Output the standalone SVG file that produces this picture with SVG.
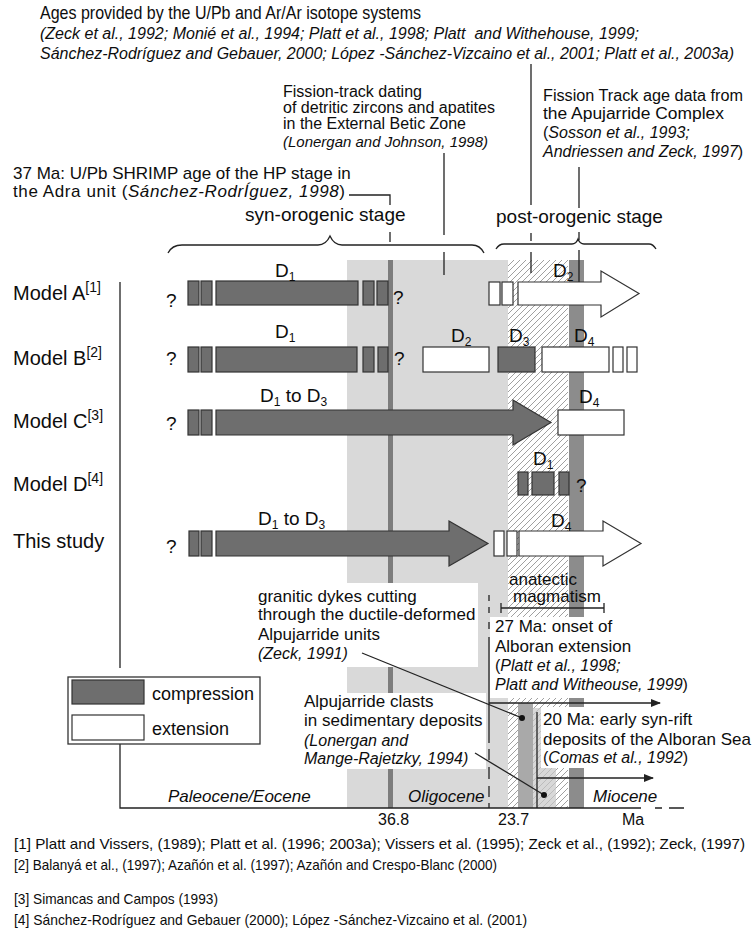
<svg xmlns="http://www.w3.org/2000/svg" width="752" height="940" viewBox="0 0 752 940">
<defs>
<style>
text{font-family:"Liberation Sans",Arial,sans-serif;fill:#0d0d0d}
.i{font-style:italic}
.comp{fill:#6e6e6e;stroke:#333;stroke-width:1.2}
.ext{fill:#fff;stroke:#333;stroke-width:1.2}
.ln{stroke:#222;stroke-width:1.3;fill:none}
.br{stroke:#222;stroke-width:1.3;fill:none}
.wb{fill:#fff}
.d{font-size:19px}
.q{font-size:19px}
.ml{font-size:20px}
</style>
<pattern id="hatch" patternUnits="userSpaceOnUse" width="6" height="6">
<rect width="6" height="6" fill="#fff"/>
<path d="M0,6 L6,0 M-1,1 L1,-1 M5,7 L7,5" stroke="#a0a0a0" stroke-width="1"/>
</pattern>
<marker id="ah" markerUnits="userSpaceOnUse" markerWidth="10" markerHeight="8" refX="9" refY="4" orient="auto">
<path d="M0,0 L10,4 L0,8 z" fill="#222"/>
</marker>
</defs>
<rect width="752" height="940" fill="#fff"/>

<g id="background">
<rect x="347" y="260" width="161" height="548" fill="#d9d9d9"/>
<rect x="508" y="260" width="60" height="548" fill="url(#hatch)"/>
<rect x="518" y="703" width="15" height="105" fill="#a9a9a9"/>
<rect x="533" y="708" width="23" height="100" fill="#c8c8c8" fill-opacity="0.7"/>
<rect x="569" y="260" width="15" height="548" fill="#8c8c8c"/>
<rect x="388" y="260" width="5" height="548" fill="#7d7d7d"/>
<rect class="wb" x="253" y="583" width="225" height="84"/>
<rect class="wb" x="300" y="693" width="186" height="76"/>
<rect class="wb" x="490" y="617" width="262" height="81"/>
<rect class="wb" x="541" y="707" width="211" height="61"/>
</g>

<g id="connectors">
<path class="ln" d="M531,64 V205 M531,233 V241 M531,252 V273"/>
<path class="ln" d="M444,153 V235 M444,252 V275"/>
<path class="ln" d="M579,167 V208 M579,232 V240 M579,250 V282"/>
<path class="ln" d="M349,195 H390 V205 M390,232 V242"/>
<path class="br" d="M168,253 Q172,245 182,245 L318,245 Q326,245 330,236 Q334,245 342,245 L472,245 Q480,245 484,253"/>
<path class="br" d="M496,249 Q499,244 504,244 L572,244 Q576,244 578,239 Q580,244 584,244 L649,244 Q653,244 656,249"/>
<path class="ln" d="M501,608 H604 M501,603 V613 M604,603 V613"/>
<path class="ln" d="M489,595 V601 M489,607 V613 M489,622 V629 M489,637 V743 M489,749 V760 M489,767 V779 M489,786 V797 M489,803 V808"/>
<path class="ln" d="M489,703 H660" marker-end="url(#ah)"/>
<path class="ln" d="M537,712 V808"/>
<path class="ln" d="M537,778 H653" marker-end="url(#ah)"/>
<path class="ln" stroke-width="1" d="M362,653 L522,718"/>
<circle cx="522" cy="718" r="3" fill="#111"/>
<path class="ln" stroke-width="1" d="M475,753 L544,795"/>
<circle cx="544" cy="795" r="3" fill="#111"/>
<path class="ln" d="M120,282 V668 M120,744 V808 H641 M655,808 H662 M669,808 H684"/>
</g>

<g id="header">
<text x="40" y="19" font-size="19" textLength="381" lengthAdjust="spacingAndGlyphs">Ages provided by the U/Pb and Ar/Ar isotope systems</text>
<text x="40" y="39" font-size="16" class="i" textLength="599" lengthAdjust="spacingAndGlyphs" xml:space="preserve">(Zeck et al., 1992; Monié et al., 1994; Platt et al., 1998; Platt  and Withehouse, 1999;</text>
<text x="40" y="59" font-size="16" class="i" textLength="694" lengthAdjust="spacingAndGlyphs">Sánchez-Rodríguez and Gebauer, 2000; López -Sánchez-Vizcaino et al., 2001; Platt et al., 2003a)</text>
</g>

<g id="fission-detritic">
<text x="283" y="97" font-size="16" textLength="139" lengthAdjust="spacingAndGlyphs">Fission-track dating</text>
<text x="283" y="113" font-size="16" textLength="212" lengthAdjust="spacingAndGlyphs">of detritic zircons and apatites</text>
<text x="283" y="129" font-size="16" textLength="183" lengthAdjust="spacingAndGlyphs">in the External Betic Zone</text>
<text x="283" y="147" font-size="15" class="i" textLength="205" lengthAdjust="spacingAndGlyphs">(Lonergan and Johnson, 1998)</text>
</g>

<g id="fission-apujarride">
<text x="543" y="101" font-size="16" textLength="200" lengthAdjust="spacingAndGlyphs">Fission Track age data from</text>
<text x="543" y="119" font-size="16" textLength="181" lengthAdjust="spacingAndGlyphs">the Apujarride Complex</text>
<text x="543" y="138" font-size="16">(<tspan class="i">Sosson et al., 1993;</tspan></text>
<text x="543" y="157" font-size="16"><tspan class="i">Andriessen and Zeck, 1997</tspan>)</text>
</g>

<g id="shrimp">
<text x="13" y="179" font-size="17">37 Ma: U/Pb SHRIMP age of the HP stage in</text>
<text x="13" y="197" font-size="17" textLength="332" lengthAdjust="spacing">the Adra unit (<tspan class="i">Sánchez-RodrÍguez, 1998</tspan>)</text>
</g>

<g id="stages">
<text x="245" y="221" font-size="19">syn-orogenic stage</text>
<text x="496" y="223" font-size="19">post-orogenic stage</text>
</g>

<g id="model-a">
<text x="13" y="300" class="ml">Model A<tspan font-size="14" dy="-8">[1]</tspan></text>
<text x="166" y="307" class="q">?</text>
<rect class="comp" x="188" y="281" width="11" height="24"/>
<rect class="comp" x="201" y="281" width="11" height="24"/>
<rect class="comp" x="216" y="281" width="142" height="24"/>
<rect class="comp" x="363" y="281" width="11" height="24"/>
<rect class="comp" x="377" y="281" width="11" height="24"/>
<text x="393" y="304" class="q">?</text>
<rect class="ext" x="489" y="282" width="11" height="23"/>
<rect class="ext" x="502" y="282" width="11" height="23"/>
<path class="ext" d="M518,282 H601 V271 L639,293.5 L601,317 V305 H518 Z"/>
<text x="275" y="277" class="d">D<tspan font-size="12" dy="4">1</tspan></text>
<text x="553" y="277" class="d">D<tspan font-size="12" dy="4">2</tspan></text>
</g>

<g id="model-b">
<text x="13" y="365" class="ml">Model B<tspan font-size="14" dy="-8">[2]</tspan></text>
<text x="166" y="365" class="q">?</text>
<rect class="comp" x="188" y="347" width="11" height="25"/>
<rect class="comp" x="201" y="347" width="11" height="25"/>
<rect class="comp" x="216" y="347" width="141" height="25"/>
<rect class="comp" x="363" y="347" width="11" height="25"/>
<rect class="comp" x="378" y="347" width="10" height="25"/>
<text x="394" y="365" class="q">?</text>
<rect class="ext" x="423" y="347" width="66" height="25"/>
<rect class="comp" x="498" y="347" width="37" height="25"/>
<rect class="ext" x="542" y="347" width="67" height="25"/>
<rect class="ext" x="613" y="347" width="10" height="25"/>
<rect class="ext" x="627" y="347" width="10" height="25"/>
<text x="275" y="338" class="d">D<tspan font-size="12" dy="4">1</tspan></text>
<text x="451" y="342" class="d">D<tspan font-size="12" dy="4">2</tspan></text>
<text x="509" y="342" class="d">D<tspan font-size="12" dy="4">3</tspan></text>
<text x="574" y="342" class="d">D<tspan font-size="12" dy="4">4</tspan></text>
</g>

<g id="model-c">
<text x="13" y="428" class="ml">Model C<tspan font-size="14" dy="-8">[3]</tspan></text>
<text x="166" y="430" class="q">?</text>
<rect class="comp" x="188" y="410" width="11" height="25"/>
<rect class="comp" x="201" y="410" width="11" height="25"/>
<path class="comp" d="M216,410 H513 V400 L551,422.5 L513,445 V435 H216 Z"/>
<rect class="ext" x="558" y="410" width="66" height="25"/>
<text x="260" y="402" class="d">D<tspan font-size="12" dy="4">1</tspan><tspan dy="-4"> to D</tspan><tspan font-size="12" dy="4">3</tspan></text>
<text x="579" y="403" class="d">D<tspan font-size="12" dy="4">4</tspan></text>
</g>

<g id="model-d">
<text x="13" y="491" class="ml">Model D<tspan font-size="14" dy="-8">[4]</tspan></text>
<rect class="comp" x="518" y="472" width="10" height="23"/>
<rect class="comp" x="532" y="472" width="22" height="23"/>
<rect class="comp" x="559" y="472" width="10" height="23"/>
<text x="576" y="492" class="q">?</text>
<text x="533" y="465" class="d">D<tspan font-size="12" dy="4">1</tspan></text>
</g>

<g id="this-study">
<text x="13" y="548" class="ml">This study</text>
<text x="166" y="553" class="q">?</text>
<rect class="comp" x="189" y="531" width="10" height="25"/>
<rect class="comp" x="201" y="531" width="11" height="25"/>
<path class="comp" d="M216,531 H449 V521 L488,543.5 L449,566 V556 H216 Z"/>
<rect class="ext" x="494" y="531" width="10" height="25"/>
<rect class="ext" x="507" y="531" width="10" height="25"/>
<path class="ext" d="M519,531 H603 V521 L641,543.5 L603,566 V556 H519 Z"/>
<text x="258" y="525" class="d">D<tspan font-size="12" dy="4">1</tspan><tspan dy="-4"> to D</tspan><tspan font-size="12" dy="4">3</tspan></text>
<text x="551" y="527" class="d">D<tspan font-size="12" dy="4">4</tspan></text>
</g>

<g id="granitic-dykes">
<text x="258" y="602" font-size="17">granitic dykes cutting</text>
<text x="258" y="620" font-size="17">through the ductile-deformed</text>
<text x="258" y="640" font-size="17">Alpujarride units</text>
<text x="258" y="659" font-size="16" class="i">(Zeck, 1991)</text>
</g>

<g id="anatectic">
<text x="509" y="585" font-size="17">anatectic</text>
<text x="513" y="602" font-size="17">magmatism</text>
</g>

<g id="alboran-extension">
<text x="495" y="632" font-size="17">27 Ma: onset of</text>
<text x="495" y="652" font-size="17">Alboran extension</text>
<text x="495" y="671" font-size="16">(<tspan class="i">Platt et al., 1998;</tspan></text>
<text x="495" y="690" font-size="16"><tspan class="i">Platt and Witheouse, 1999</tspan>)</text>
</g>

<g id="clasts">
<text x="304" y="707" font-size="17">Alpujarride clasts</text>
<text x="304" y="726" font-size="17">in sedimentary deposits</text>
<text x="304" y="746" font-size="16" class="i">(Lonergan and</text>
<text x="304" y="764" font-size="16" class="i">Mange-Rajetzky, 1994)</text>
</g>

<g id="synrift">
<text x="543" y="725" font-size="17">20 Ma: early syn-rift</text>
<text x="543" y="745" font-size="17">deposits of the Alboran Sea</text>
<text x="543" y="763" font-size="16">(<tspan class="i">Comas et al., 1992</tspan>)</text>
</g>

<g id="legend">
<rect x="68" y="677" width="192" height="67" fill="#fff" stroke="#333" stroke-width="1.3"/>
<rect class="comp" x="72" y="680" width="72" height="24"/>
<rect class="ext" x="72" y="715" width="72" height="25"/>
<text x="152" y="700" font-size="18">compression</text>
<text x="152" y="735" font-size="18">extension</text>
</g>

<g id="axis">
<text x="168" y="802" font-size="17" class="i">Paleocene/Eocene</text>
<text x="408" y="802" font-size="17" class="i">Oligocene</text>
<text x="593" y="802" font-size="17" class="i">Miocene</text>
<text x="378" y="825" font-size="16">36.8</text>
<text x="498" y="825" font-size="16">23.7</text>
<text x="622" y="825" font-size="16">Ma</text>
</g>

<g id="footnotes">
<text x="14" y="849" font-size="15" textLength="731" lengthAdjust="spacingAndGlyphs">[1] Platt and Vissers, (1989); Platt et al. (1996; 2003a); Vissers et al. (1995); Zeck et al., (1992); Zeck, (1997)</text>
<text x="14" y="870" font-size="15" textLength="483" lengthAdjust="spacingAndGlyphs">[2] Balanyá et al., (1997); Azañón et al. (1997); Azañón and Crespo-Blanc (2000)</text>
<text x="14" y="904" font-size="15" textLength="204" lengthAdjust="spacingAndGlyphs">[3] Simancas and Campos (1993)</text>
<text x="14" y="925" font-size="15" textLength="513" lengthAdjust="spacingAndGlyphs">[4] Sánchez-Rodríguez and Gebauer (2000); López -Sánchez-Vizcaino et al. (2001)</text>
</g>
</svg>
